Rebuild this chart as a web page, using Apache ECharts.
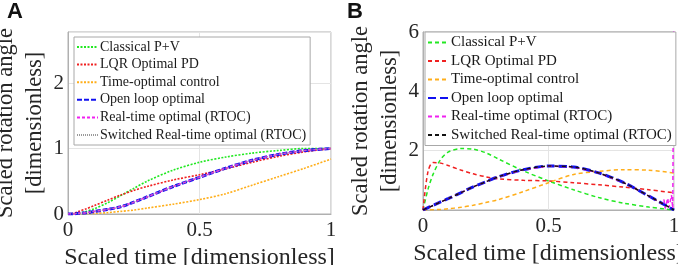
<!DOCTYPE html>
<html>
<head>
<meta charset="utf-8">
<script src="https://cdn.jsdelivr.net/npm/echarts@6/dist/echarts.min.js"></script>
<style>
  html, body { margin: 0; padding: 0; background: #fff; }
  #chart { width: 678px; height: 265px; }
</style>
</head>
<body>
<div id="chart"></div>
<script>
// scaled time samples shared by most curves
const timeSteps = [0, 0.02, 0.04, 0.07, 0.1, 0.15, 0.2, 0.25, 0.3, 0.4, 0.5, 0.6, 0.7, 0.8, 0.9, 1]

const seriesNames = [
  "Classical P+V",
  "LQR Optimal PD",
  "Time-optimal control",
  "Open loop optimal",
  "Real-time optimal (RTOC)",
  "Switched Real-time optimal (RTOC)"
]

// panel A: scaled rotation angle
const angleClassical = [0, 0, 0.01, 0.04, 0.08, 0.17, 0.28, 0.39, 0.5, 0.67, 0.79, 0.87, 0.93, 0.97, 1.0, 1.0]
const angleLqr = [0, 0.01, 0.04, 0.08, 0.13, 0.21, 0.29, 0.36, 0.42, 0.52, 0.6, 0.69, 0.79, 0.88, 0.95, 1.0]
const angleTimeOpt = [0, 0, 0, 0.005, 0.01, 0.02, 0.04, 0.06, 0.09, 0.15, 0.22, 0.31, 0.44, 0.57, 0.7, 0.84]
const angleOpenLoop = [0, 0, 0.01, 0.02, 0.04, 0.07, 0.11, 0.18, 0.26, 0.42, 0.56, 0.7, 0.82, 0.91, 0.97, 1.0]
const angleRtoc = [0, 0, 0.01, 0.02, 0.04, 0.07, 0.11, 0.18, 0.26, 0.42, 0.56, 0.7, 0.82, 0.91, 0.97, 1.0]
const angleSwitched = [0, 0, 0.01, 0.02, 0.04, 0.07, 0.11, 0.18, 0.26, 0.42, 0.56, 0.7, 0.82, 0.91, 0.97, 1.0]

// panel B: scaled rate
const rateClassical = [0, 0.7, 1.2, 1.7, 1.95, 2.07, 2.05, 1.93, 1.72, 1.32, 0.98, 0.68, 0.42, 0.23, 0.1, 0]
const rateLqr = [0, 1.3, 1.6, 1.58, 1.5, 1.35, 1.22, 1.12, 1.05, 1.0, 0.98, 0.92, 0.85, 0.77, 0.68, 0.58]
const rateTimeOpt = [0, 0, 0.01, 0.02, 0.04, 0.09, 0.16, 0.25, 0.35, 0.62, 0.92, 1.2, 1.3, 1.36, 1.34, 1.25]
const rateOpenLoop = [0, 0.08, 0.15, 0.27, 0.38, 0.58, 0.78, 0.95, 1.12, 1.36, 1.48, 1.45, 1.25, 0.92, 0.47, 0]
const rateSwitched = [0, 0.08, 0.15, 0.27, 0.38, 0.58, 0.78, 0.95, 1.12, 1.36, 1.48, 1.45, 1.25, 0.92, 0.47, 0]
// RTOC rate chatters near the end and shoots off the top at t = 1
const rtocTime = [0, 0.02, 0.04, 0.07, 0.1, 0.15, 0.2, 0.25, 0.3, 0.4, 0.5, 0.6, 0.7, 0.8, 0.9, 0.95, 0.96, 0.965, 0.975, 0.98, 0.99, 0.995, 1, 1]
const rateRtoc = [0, 0.08, 0.15, 0.27, 0.38, 0.58, 0.78, 0.95, 1.12, 1.36, 1.48, 1.45, 1.25, 0.92, 0.47, 0.22, 0.35, 0.05, 0.4, 0.08, 0.5, 0.05, 0.1, 7]

const xTicks = [0, 0.5, 1]

const colors = ["#22e822", "#f02020", "#ffae1a", "#1010f0", "#f020f0"]
const serif = "Liberation Serif"
const textColor = "#262626"

const pairs = (xs, ys) => xs.map((x, i) => [x, ys[i]])

function curve(id, name, xs, ys, idx, color, width, dash) {
  return {
    type: "line",
    name: id + name,
    xAxisIndex: idx,
    yAxisIndex: idx,
    data: pairs(xs, ys),
    smooth: 0.3,
    symbol: "none",
    color: color,
    lineStyle: { color: color, width: width, type: dash },
    emphasis: { disabled: true }
  }
}

function xAxis(idx, gap) {
  return {
    type: "value", gridIndex: idx, min: 0, max: 1, interval: 0.5,
    name: "Scaled time [dimensionless]", nameLocation: "middle", nameGap: gap,
    nameTextStyle: { fontFamily: serif, fontSize: 24, color: textColor },
    axisLine: { show: true, lineStyle: { color: "#b0b0b0" } },
    axisTick: { show: false },
    axisLabel: { fontFamily: serif, fontSize: 21, color: textColor, margin: 6,
      formatter: v => xTicks.includes(v) ? String(v) : "" },
    splitLine: { show: true, lineStyle: { color: "#e4e4e4" } }
  }
}

function yAxis(idx, max, interval, showZero, gap) {
  return {
    type: "value", gridIndex: idx, min: 0, max: max, interval: interval,
    name: "Scaled rotation angle\n[dimensionless]", nameLocation: "middle", nameGap: gap,
    nameRotate: 90,
    nameTextStyle: { fontFamily: serif, fontSize: 22.5, color: textColor, lineHeight: 29 },
    axisLine: { show: true, lineStyle: { color: "#b0b0b0" } },
    axisTick: { show: false },
    axisLabel: { fontFamily: serif, fontSize: 21, color: textColor, margin: 4,
      showMaxLabel: max % interval === 0,
      formatter: v => (v === 0 && !showZero) ? "" : String(v) },
    splitLine: { show: true, lineStyle: { color: "#e4e4e4" } }
  }
}

function legend(id, left, top, fontSize, gap) {
  return {
    orient: "vertical", left: left, top: top,
    data: seriesNames.map(n => id + n),
    formatter: n => n.slice(2),
    itemWidth: 21, itemHeight: 12, itemGap: gap,
    itemStyle: { opacity: 0 },
    padding: [3, 4, 3, 2],
    backgroundColor: "#fff", borderColor: "#a8a8a8", borderWidth: 1,
    textStyle: { fontFamily: serif, fontSize: fontSize, color: "#1a1a1a", padding: [0, 0, 0, -3] },
    selectedMode: false
  }
}

const dotA = [2, 1.5]
const dashB = [4, 3]

const option = {
  animation: false,
  grid: [
    { left: 68, right: 347, top: 32, bottom: 51, show: true, borderColor: "#b0b0b0", borderWidth: 1, outerBoundsMode: "none" },
    { left: 423, right: 4, top: 32, bottom: 55, show: true, borderColor: "#b0b0b0", borderWidth: 1, outerBoundsMode: "none" }
  ],
  xAxis: [xAxis(0, 28), xAxis(1, 19)],
  yAxis: [yAxis(0, 2.78, 1, true, 17), yAxis(1, 6, 2, false, 17)],
  legend: [legend("A:", 74, 37, 14, 3.6), legend("B:", 425, 32, 15, 3.5)],
  graphic: [
    { type: "text", left: 7, top: 1, style: { text: "A", font: "bold 22px 'Liberation Sans'", fill: "#111" } },
    { type: "text", left: 347, top: 1, style: { text: "B", font: "bold 22px 'Liberation Sans'", fill: "#111" } }
  ],
  series: [
    curve("A:", seriesNames[0], timeSteps, angleClassical, 0, colors[0], 1.6, dotA),
    curve("A:", seriesNames[1], timeSteps, angleLqr, 0, colors[1], 1.6, dotA),
    curve("A:", seriesNames[2], timeSteps, angleTimeOpt, 0, colors[2], 1.6, dotA),
    curve("A:", seriesNames[3], timeSteps, angleOpenLoop, 0, colors[3], 3, [5, 2]),
    curve("A:", seriesNames[4], timeSteps, angleRtoc, 0, colors[4], 1.6, [3, 2]),
    curve("A:", seriesNames[5], timeSteps, angleSwitched, 0, "#9a9a9a", 1, [1, 1]),
    curve("B:", seriesNames[0], timeSteps, rateClassical, 1, colors[0], 1.5, dashB),
    curve("B:", seriesNames[1], timeSteps, rateLqr, 1, colors[1], 1.5, dashB),
    curve("B:", seriesNames[2], timeSteps, rateTimeOpt, 1, colors[2], 1.5, dashB),
    curve("B:", seriesNames[3], timeSteps, rateOpenLoop, 1, colors[3], 3, [8, 4]),
    Object.assign(curve("B:", seriesNames[4], rtocTime, rateRtoc, 1, colors[4], 1.5, dashB), { smooth: false }),
    curve("B:", seriesNames[5], timeSteps, rateSwitched, 1, "#111", 1.5, dashB)
  ]
}

const chart = echarts.init(document.getElementById("chart"), null, { renderer: "canvas" })
chart.setOption(option)
</script>
</body>
</html>
